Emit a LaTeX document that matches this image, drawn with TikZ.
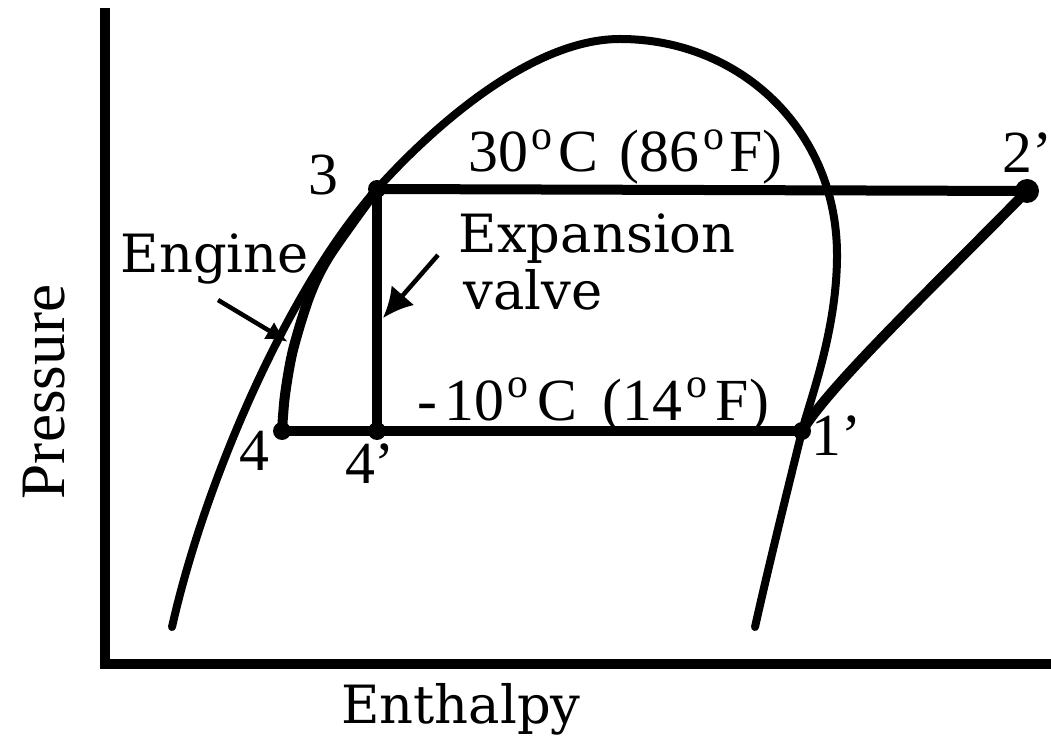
\documentclass[tikz,border=0pt]{standalone}
\usepackage{fontspec}
\setmainfont{Liberation Serif}
\newfontfamily\wordfont{DejaVu Serif}
\usetikzlibrary{arrows.meta}
\newcommand{\dg}{\kern1pt\textsuperscript{o}\kern1pt}

\begin{document}
\begin{tikzpicture}[
  x=0.1mm, y=-0.1mm,
  axis/.style={line width=1mm},
  sat/.style={line width=0.8mm, line cap=round},
  cyc/.style={line width=1mm, line cap=round},
  arr/.style={-{Latex[length=3mm, width=3mm]}, line width=0.45mm},
  num/.style={font=\fontsize{17}{17}\selectfont, inner sep=0pt, anchor=base},
  word/.style={font=\wordfont\fontsize{15}{15}\selectfont, inner sep=0pt, anchor=base west},
]
\useasboundingbox (0,0) rectangle (1051,739);
% state points
\coordinate (p1) at (802,431);
\coordinate (p2) at (1027,191);
\coordinate (p3) at (377,189);
\coordinate (p4) at (282,431);
\coordinate (p4v) at (377,431);
% axes
\coordinate (ytop) at (105,8);
\coordinate (orig) at (105,664);
\coordinate (xend) at (1060,664);
\draw[axis] (ytop) -- (orig) -- (xend);
% saturation dome
\coordinate (top) at (620,39);
\coordinate (rmax) at (837,255);
\draw[sat] (172,627) .. controls (205,480) and (290,285) .. (p3)
  .. controls (430,130) and (530,39) .. (top)
  .. controls (740,39) and (837,130) .. (rmax)
  .. controls (837,330) and (810,400) .. (p1)
  .. controls (790,480) and (770,560) .. (755,627);
% cycle
\draw[cyc] (p3) -- (p2);
\draw[cyc] (p4) -- (p1);
\draw[cyc] (p3) -- (p4v);
\draw[cyc] plot[smooth] coordinates {(p3) (330,255) (310,295) (293,350) (285,395) (p4)};
\draw[cyc] (p1) .. controls (830,385) and (930,290) .. (p2);
\foreach \p in {p1,p3,p4,p4v} \fill (\p) circle (0.9mm);
\fill (p2) circle (1.2mm);
% labels
\node[num] (l3) at (323,195) {3};
\node[num] (l4) at (254,470) {4};
\node[num] (l4v) at (370,483) {4'};
\node[num] (l1) at (836,455) {1'};
\node[num, anchor=base west] (l2) at (1002,173) {2'};
\node[num, anchor=base west] (thi) at (468,172) {30\dg C\kern2pt{} (86\dg F)};
\node[num, anchor=base west] (tlo) at (417,420) {-\kern2pt10\dg\kern1pt C\kern3pt{} (14\dg\kern1pt F)};
\node[word] (eng) at (120,273) {Engine};
\node[word] (expn) at (458,253) {Expansion};
\node[word] (valve) at (463,310) {valve};
\node[word, anchor=base] (hx) at (461,723) {Enthalpy};
\node[font=\fontsize{18}{18}\selectfont, rotate=90, anchor=base, inner sep=0pt] (px) at (64,392) {Pressure};
% pointers
\coordinate (engtail) at (218,300);
\coordinate (engtip) at (288,342);
\coordinate (exptail) at (438,255);
\coordinate (exptip) at (383,318);
\draw[arr, -{Latex[length=2.2mm, width=2mm]}] (engtail) -- (engtip);
\draw[arr] (exptail) -- (exptip);
\end{tikzpicture}
\end{document}
